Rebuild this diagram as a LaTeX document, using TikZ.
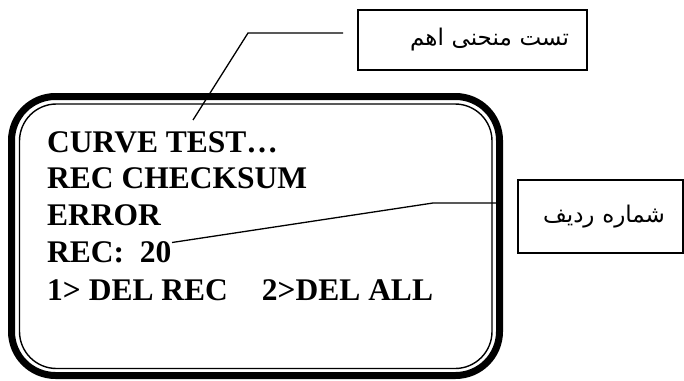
\documentclass[tikz,border=0pt]{standalone}
\usepackage{fontspec}
\setmainfont{Liberation Serif}
\newfontfamily\arabicfont[Script=Arabic]{DejaVu Sans}
\TeXXeTstate=1
\begin{document}
\begin{tikzpicture}[x=1pt,y=-1pt,
  lcdtext/.style={anchor=base west,inner sep=0pt,font=\bfseries\fontsize{31.5}{36}\selectfont},
  callout/.style={draw,line width=1.3pt,inner xsep=18pt,inner ysep=0pt,align=right,
     font=\arabicfont\fontsize{23}{26}\selectfont},
  leader/.style={line width=1.3pt}]
\useasboundingbox (0,0) rectangle (684,380);
% double frame
\draw[line width=7pt,rounded corners=44pt] (11.5,96.5) rectangle (499.5,375.5);
\draw[line width=1.4pt,rounded corners=37pt] (19.5,104) rectangle (492,368.5);
% display text
\node[lcdtext] (l1) at (47,152) {CURVE TEST…};
\node[lcdtext] (l2) at (47,188) {REC CHECKSUM};
\node[lcdtext] (l3) at (47,225) {ERROR};
\node[lcdtext] (l4) at (47,262) {REC:\ \ 20};
\node[lcdtext] (l5) at (47,300) {1> DEL REC\hspace{34pt}2>DEL ALL};
% callouts
\node[callout,minimum width=229pt,minimum height=60pt,text width=193pt] (c1) at (472.5,40) {\beginR تست منحنی اهم\endR};
\node[callout,minimum width=165pt,minimum height=73pt,text width=129pt] (c2) at (600.5,216.5) {\beginR شماره ردیف\endR};
% leaders
\coordinate (a1) at (193,120);
\coordinate (b1) at (248,33);
\coordinate (e1) at (343,33);
\draw[leader] (a1) -- (b1) -- (e1);
\coordinate (a2) at (172,242.5);
\coordinate (b2) at (433,203);
\coordinate (e2) at (496,203);
\draw[leader] (a2) -- (b2) -- (e2);
\end{tikzpicture}
\end{document}
